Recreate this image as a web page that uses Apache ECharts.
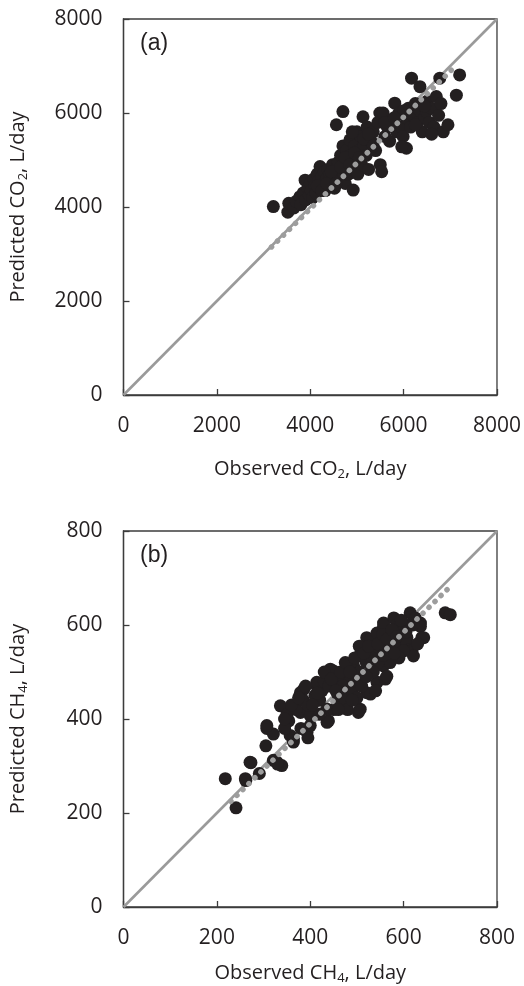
<!DOCTYPE html>
<html>
<head>
<meta charset="utf-8">
<script src="https://cdn.jsdelivr.net/npm/echarts@6/dist/echarts.min.js"></script>
<style>
  html, body { margin: 0; padding: 0; background: #fff; }
  #chart { width: 524px; height: 986px; }
</style>
</head>
<body>
<div id="chart"></div>
<script>
// Panel (a): observed vs predicted CO2, L/day
const co2Ticks = [0, 2000, 4000, 6000, 8000];
const co2Points = [
  [3210,4010],[3520,3890],[3540,4080],[3650,3980],[3700,4120],[3780,4220],[3800,4050],[3850,4300],
  [3890,4570],[3900,4150],[3950,4400],[3980,4250],[4000,4500],[4020,4350],[4050,4200],[4080,4600],
  [4100,4450],[4120,4300],[4150,4700],[4180,4550],[4200,4400],[4210,4860],[4250,4650],[4280,4500],
  [4300,4750],[4320,4350],[4350,4600],[4380,4800],[4400,4450],[4420,4700],[4450,4550],[4480,4900],
  [4500,4650],[4520,4400],[4550,4800],[4560,5750],[4600,4950],[4620,4600],[4650,5100],[4680,4750],
  [4700,6030],[4700,5300],[4720,4900],[4750,4500],[4780,5200],[4800,5000],[4820,4700],[4850,5430],
  [4870,5100],[4900,4800],[4920,4360],[4950,5300],[4980,5000],[5000,5600],[5020,4700],[5050,5200],
  [5080,5500],[5100,4900],[5130,5920],[5150,5300],[5200,5100],[5220,5700],[5250,4800],[5300,5400],
  [5350,5600],[5400,5200],[5450,5800],[5490,6000],[5500,4900],[5530,4750],[5560,6000],[5600,5500],
  [5650,5700],[5700,5400],[5750,5850],[5810,6210],[5850,5600],[5900,6000],[5950,5700],[5990,5500],
  [6060,5250],[5960,5280],[6050,5900],[6100,6100],[6150,5700],[6170,6740],[6200,5950],[6250,6200],
  [6300,5800],[6350,6560],[6350,6050],[6400,5600],[6450,5900],[6490,6030],[6500,6250],[6550,5800],
  [6600,6100],[6650,5700],[6700,6350],[6750,5950],[6775,6740],[6800,6200],[6850,5600],[6950,5750],
  [7130,6380],[7200,6810],
  [4150,4450],[4250,4350],[4350,4500],[4450,4750],[4550,4500],[4650,4850],[4750,5050],[4850,4900],
  [4950,5150],[5050,5050],[5150,5450],[5250,5550],[5350,5300],[5600,5800],[6000,6050],[6250,5750],
  [6450,6150],[6600,5550],[5800,5900],[4900,5600]
];
const co2Identity = [[0, 0], [8000, 8000]];
const co2Fit = [[3170, 3150], [7060, 6950]];

// Panel (b): observed vs predicted CH4, L/day
const ch4Ticks = [0, 200, 400, 600, 800];
const ch4Points = [
  [218,273],[241,211],[262,269],[291,284],[273,307],[305,343],[307,380],[321,368],[321,312],[339,301],
  [330,304],[364,351],[357,365],[393,372],[439,396],[336,428],[307,386],[271,308],[329,308],[261,273],
  [379,456],[414,470],[354,396],[379,414],[364,358],[400,386],[436,393],[386,463],[400,407],[414,478],
  [436,421],[443,506],[450,502],[464,435],[464,463],[479,463],[493,506],[493,513],[503,414],[507,421],
  [507,534],[507,537],[521,456],[521,573],[529,569],[529,453],[543,478],[543,583],[557,597],[557,513],
  [557,604],[561,485],[564,491],[571,520],[579,615],[593,562],[593,583],[607,573],[607,562],[614,626],
  [614,548],[618,545],[621,534],[636,604],[636,597],[639,573],[643,573],[689,626],[700,622],
  [350,410],[370,420],[385,440],[395,430],[410,450],[420,440],[425,460],[430,480],[440,470],[455,480],
  [460,450],[470,490],[475,440],[485,480],[490,460],[500,480],[505,500],[515,490],[520,520],[530,500],
  [535,540],[545,520],[550,560],[560,550],[570,580],[580,560],[585,600],[600,590],[610,600],[600,545],
  [450,420],[420,410],[380,380],[345,380],[395,360],[480,420],[500,445],[540,460],[470,470],[510,470],
  [530,530],[565,540],[590,530],
  [345,400],[360,430],[375,445],[390,470],[405,430],[415,455],[430,500],[445,485],[455,460],[465,500],
  [475,520],[485,500],[495,530],[505,555],[515,540],[525,555],[535,500],[545,560],[555,580],[565,570],
  [575,590],[585,575],[595,610],[605,585],[620,600],[625,615],[630,560],[580,540],[555,535],[520,490],
  [490,440],[460,420]
];
const ch4Identity = [[0, 0], [800, 800]];
const ch4Fit = [[230, 225], [700, 682]];

const FONT = '"Open Sans", "Noto Sans", sans-serif';
const INK = '#231f20';
const AXIS = '#3c3c3c';

function nameStyle() {
  return {
    fontFamily: FONT, fontSize: 20, color: INK,
    rich: { sub: { fontFamily: FONT, fontSize: 13, color: INK, padding: [10, 0, 0, 0] } }
  };
}

function axisCommon(ticks) {
  return {
    type: 'value',
    min: ticks[0], max: ticks[ticks.length - 1], interval: ticks[1] - ticks[0],
    nameLocation: 'middle',
    axisLine: { show: true, onZero: false, lineStyle: { color: AXIS, width: 1.3 } },
    axisTick: { show: true, inside: true, length: 6, lineStyle: { color: AXIS, width: 1.3 } },
    axisLabel: { margin: 21, fontFamily: FONT, fontSize: 21, color: INK, formatter: v => String(v) },
    splitLine: { show: false }
  };
}

function xAxisFor(gridIndex, ticks, gas, gap) {
  return Object.assign(axisCommon(ticks), {
    gridIndex,
    name: 'Observed ' + gas.base + '{sub|' + gas.sub + '}, L/day',
    nameGap: gap, nameTextStyle: nameStyle()
  });
}

function yAxisFor(gridIndex, ticks, gas, gap) {
  return Object.assign(axisCommon(ticks), {
    gridIndex,
    name: 'Predicted ' + gas.base + '{sub|' + gas.sub + '}, L/day',
    nameGap: gap, nameRotate: 90, nameTextStyle: nameStyle()
  });
}

function panelSeries(idx, points, identity, fit) {
  return [
    {
      type: 'line', xAxisIndex: idx, yAxisIndex: idx, data: identity,
      symbol: 'none', silent: true, z: 1,
      lineStyle: { color: '#9a9a9a', width: 2.6 }
    },
    {
      type: 'scatter', xAxisIndex: idx, yAxisIndex: idx, data: points,
      symbol: 'circle', symbolSize: 13, z: 2,
      itemStyle: { color: INK, opacity: 1 }
    },
    {
      type: 'line', xAxisIndex: idx, yAxisIndex: idx, data: fit,
      symbol: 'none', silent: true, z: 3,
      lineStyle: { color: '#9d9d9d', width: 5.5, type: [0.1, 8.3], cap: 'round' }
    }
  ];
}

const chart = echarts.init(document.getElementById('chart'), null, { renderer: 'canvas' });
chart.setOption({
  animation: false,
  backgroundColor: '#ffffff',
  title: [
    { text: '(a)', left: 135, top: 27, textStyle: { fontFamily: 'Liberation Sans, Arial, sans-serif', fontSize: 23, fontWeight: 'normal', color: INK } },
    { text: '(b)', left: 135, top: 539, textStyle: { fontFamily: 'Liberation Sans, Arial, sans-serif', fontSize: 23, fontWeight: 'normal', color: INK } }
  ],
  grid: [
    { left: 123, top: 19, width: 374, height: 376, show: true, borderColor: AXIS, borderWidth: 1.3, backgroundColor: 'transparent' },
    { left: 123, top: 531, width: 374, height: 378, show: true, borderColor: AXIS, borderWidth: 1.3, backgroundColor: 'transparent' }
  ],
  xAxis: [
    xAxisFor(0, co2Ticks, { base: 'CO', sub: '2' }, 63),
    xAxisFor(1, ch4Ticks, { base: 'CH', sub: '4' }, 55)
  ],
  yAxis: [
    yAxisFor(0, co2Ticks, { base: 'CO', sub: '2' }, 94),
    yAxisFor(1, ch4Ticks, { base: 'CH', sub: '4' }, 94)
  ],
  series: [
    ...panelSeries(0, co2Points, co2Identity, co2Fit),
    ...panelSeries(1, ch4Points, ch4Identity, ch4Fit)
  ]
});
</script>
</body>
</html>
